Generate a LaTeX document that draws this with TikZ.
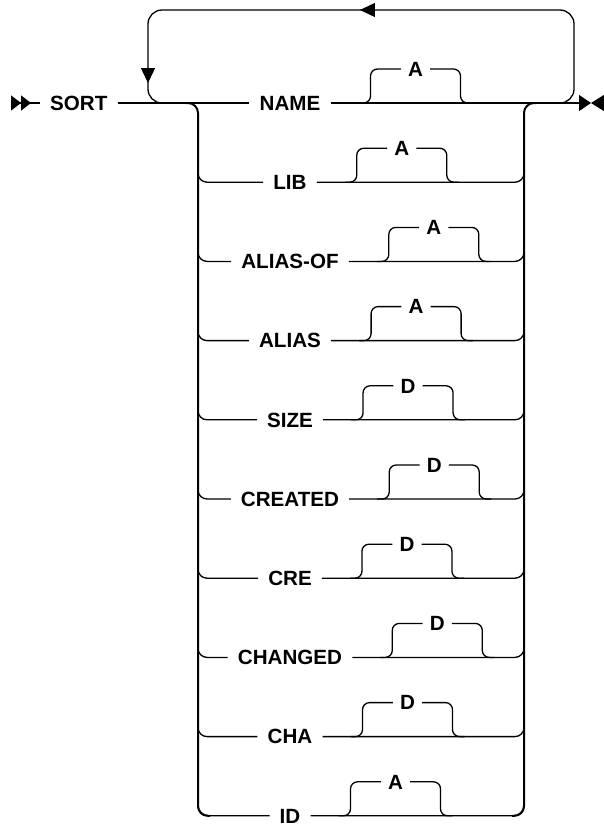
\documentclass[tikz,border=0pt]{standalone}
\usepackage{fontspec}
\setmainfont{Liberation Sans}
\usetikzlibrary{arrows.meta,decorations.markings,calc,positioning}

\tikzset{
  rail/.style={line width=1.3pt},
  trunk/.style={line width=2pt},
  kw/.style={font=\bfseries\fontsize{20.6}{24}\selectfont,inner xsep=10pt,
    inner ysep=0pt,text height=14.7pt,text depth=0pt},
  optkw/.style={kw,inner xsep=7pt},
  begintip/.tip={Triangle[reversed,length=10pt,width=15pt]},
  endtip/.tip={Triangle[length=12pt,width=16pt]},
  looptip/.tip={Triangle[length=15pt,width=14pt]}
}

\begin{document}
\begin{tikzpicture}[x=1pt,y=-1pt]
  \useasboundingbox (0,0) rectangle (604,825);

  \node[kw,anchor=west] (sort) at (40,103) {SORT};
  \coordinate (start) at (11,103);
  \coordinate (trunkL) at (198,103);
  \coordinate (trunkR) at (524,103);
  \coordinate (loopR) at (574,103);
  \coordinate (loopTR) at (574,10);
  \coordinate (loopTL) at (148,10);
  \coordinate (loopL) at (148,103);
  \coordinate (finR) at (591,103);
  \coordinate (fin) at (604,103);

  \foreach \lab/\opt [count=\i] in {NAME/A,LIB/A,ALIAS-OF/A,ALIAS/A,SIZE/D,
      CREATED/D,CRE/D,CHANGED/D,CHA/D,ID/A} {
    \node[kw] (kw\i) at (290,{103+(\i-1)*79.2}) {\lab};
    \coordinate (bs\i) at ($(kw\i.east)+(33,0)$);
    \node[optkw] (opt\i) at ($(bs\i)+(52,-34)$) {\opt};
    \draw[rail,rounded corners=7] ($(bs\i)+(-5,0)$) -- ($(bs\i)+(7,0)$) |- (opt\i.west);
    \draw[rail,rounded corners=7] (opt\i.east) -| ($(bs\i)+(97,0)$) -- ($(bs\i)+(109,0)$);
    \ifnum\i>1
      \draw[rail,rounded corners=9] ($(trunkL |- kw\i)+(0,-15)$) |- (kw\i.west);
      \draw[rail,rounded corners=9] (kw\i.east) -| ($(trunkR |- kw\i)+(0,-15)$);
    \fi
  }

  % way in and way out
  \draw[rail,{begintip[sep=0pt]begintip}-] (start) -- (sort.west);
  \draw[rail] (sort.east) -- (kw1.west);
  \draw[rail,-endtip] (kw1.east) -- (finR);
  \draw[rail,{Triangle[length=13pt,width=16pt]}-] (finR) -- (fin);

  % the two sides of the choice
  \draw[trunk,rounded corners=10] ($(trunkL)+(-12,0)$) -- (trunkL) -- (trunkL |- kw10) -- ++(12,0);
  \draw[trunk,rounded corners=10] ($(trunkR |- kw10)+(-12,0)$) -- (trunkR |- kw10) -- (trunkR) -- ++(12,0);

  % repeat loop
  \draw[rail,rounded corners=14,postaction={decorate},
    decoration={markings,
      mark=at position 317pt with {\arrow{looptip}},
      mark=at position 596pt with {\arrow{looptip}}}]
    ($(loopR)+(-22,0)$) -- (loopR) -- (loopTR) -- (loopTL) -- (loopL) -- ++(30,0);
\end{tikzpicture}
\end{document}
